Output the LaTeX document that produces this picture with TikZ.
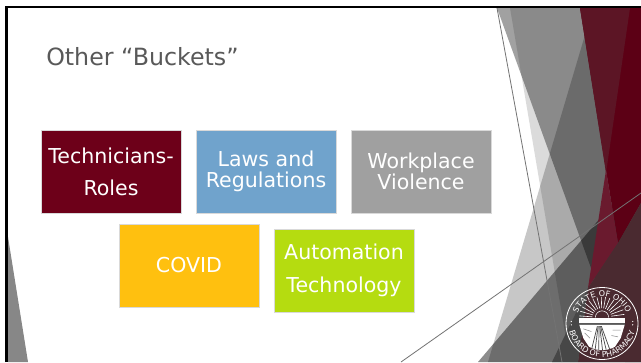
\documentclass[tikz,border=0pt]{standalone}
\usepackage{fontspec}
\setmainfont{DejaVu Sans}
\usetikzlibrary{positioning}
\usetikzlibrary{decorations.text}
\definecolor{techred}{HTML}{6D0019}
\definecolor{lawblue}{HTML}{70A3CC}
\definecolor{workgray}{HTML}{A0A0A0}
\definecolor{covidgold}{HTML}{FFC00F}
\definecolor{autogreen}{HTML}{B5DC10}
\definecolor{titlegray}{HTML}{595959}
\definecolor{wineA}{HTML}{5C0015}
\definecolor{wineB}{HTML}{5C1525}
\definecolor{wineC}{HTML}{6A1A2E}
\definecolor{wineD}{HTML}{4A2A30}
\tikzset{
	bucket/.style={minimum width=105pt,minimum height=62.5pt,inner sep=0pt,outer sep=0pt,
		draw=white!85!black,line width=.4pt,text=white,align=center},
	loosetext/.style={font=\fontsize{15.4}{24.5}\selectfont},
	tighttext/.style={font=\fontsize{15.4}{15.4}\selectfont},
	thinline/.style={draw=black!55,line width=.6pt},
	sealtext/.style={decorate,decoration={text along path,text align=center,text={|\fontsize{6}{7}\selectfont\color{white}|#1}}},
}
\begin{document}
\begin{tikzpicture}[x=0.75pt,y=-0.75pt,node distance=11.25pt]
		\useasboundingbox (0,0) rectangle (641,362);
		\fill[white] (0,0) rectangle (641,362);
		% gray wedges
		\fill[black,opacity=.37] (497,8) -- (593,8) -- (641,200) -- (641,362) -- (625,362) -- cycle;
		\fill[black,opacity=.14] (510,8) -- (593,8) -- (641,362) -- (570,362) -- cycle;
		\fill[black,opacity=.22] (593,8) -- (641,300) -- (641,362) -- (488,362) -- cycle;
		\fill[black,opacity=.45] (478,362) -- (641,170) -- (641,362) -- cycle;
		\fill[black!47] (8,237) -- (28,362) -- (8,362) -- cycle;
		% wine wedges
		\fill[wineA] (580,8) -- (641,8) -- (641,203) -- (618,243) -- (606,170) -- cycle;
		\fill[wineB] (580,8) -- (630,8) -- (606,173) -- cycle;
		\fill[wineC] (606,170) -- (618,243) -- (588,288) -- cycle;
		\fill[wineD] (588,288) -- (618,243) -- (641,203) -- (641,362) -- (578,362) -- cycle;
		\fill[black!72] (588,288) -- (578,362) -- (552,362) -- cycle;
		% thin lines
		\draw[thinline] (497,8) -- (562,362);
		\draw[thinline] (401,362) -- (641,193);
		% frame
		\draw[black,line width=1.9pt] (6.5,362) -- (6.5,7) -- (641,7);
		% title
		\node[anchor=west,inner sep=0pt,text=titlegray,font=\fontsize{17.8}{20}\selectfont] (title) at (46,57) {Other “Buckets”};
		% boxes
		\node[bucket,loosetext,fill=techred] (techs) at (111,172) {Technicians-\\Roles};
		\node[bucket,tighttext,fill=lawblue,right=of techs,yshift=.4pt] (laws) {Laws and\\Regulations};
		\node[bucket,tighttext,fill=workgray,right=of laws] (work) {Workplace\\Violence};
		\node[bucket,loosetext,fill=covidgold] (covid) at (189,265.5) {COVID};
		\node[bucket,loosetext,fill=autogreen,right=of covid,yshift=-3.75pt] (auto) {Automation\\Technology};
		% seal
		\begin{scope}[shift={(602,323.5)},x=1pt,y=1pt]
			\begin{scope}
				\clip (0,0) circle (20pt);
				\foreach \a in {8,20,...,176}
					\draw[white,line width=.45pt] (0,4.5pt) ++(\a:7pt) -- ++(\a:10pt);
				\draw[white,line width=.4pt] (5pt,4.5pt) arc[start angle=0,end angle=180,radius=5pt];
				\fill[white] (-17pt,4.5pt) rectangle (17pt,.5pt);
				\fill[black!65] (-17pt,.5pt) rectangle (17pt,-1pt);
				\fill[white] (-17pt,-1pt) -- (17pt,-1pt) -- (14pt,-11pt) -- (8pt,-20pt) -- (-8pt,-20pt) -- (-14pt,-11pt) -- cycle;
				\foreach \a in {-5,-3,-1,1,3,5}
					\draw[black!70,line width=.55pt] (\a*.3pt-2pt,-2pt) -- (\a*1.4pt-1pt,-20pt);
				\draw[black!45,line width=.4pt] (-14pt,-4pt) -- (-8pt,-6pt) (-13pt,-7pt) -- (-9pt,-11pt) (8pt,-5pt) -- (14pt,-5pt) (7pt,-9pt) -- (12pt,-10pt);
			\end{scope}
			\draw[white,line width=.6pt] (0,0) circle (27pt);
			\fill[white] (-23pt,-1pt) circle (.5pt) (-23pt,1.5pt) circle (.5pt) (23pt,-1pt) circle (.5pt) (23pt,1.5pt) circle (.5pt);
			\path[sealtext={STATE OF OHIO}]
				(155:20pt) arc[start angle=155,end angle=25,radius=20pt];
			\path[sealtext={BOARD OF PHARMACY}]
				(190:25.3pt) arc[start angle=190,end angle=350,radius=25.3pt];
		\end{scope}
	\end{tikzpicture}
\end{document}
